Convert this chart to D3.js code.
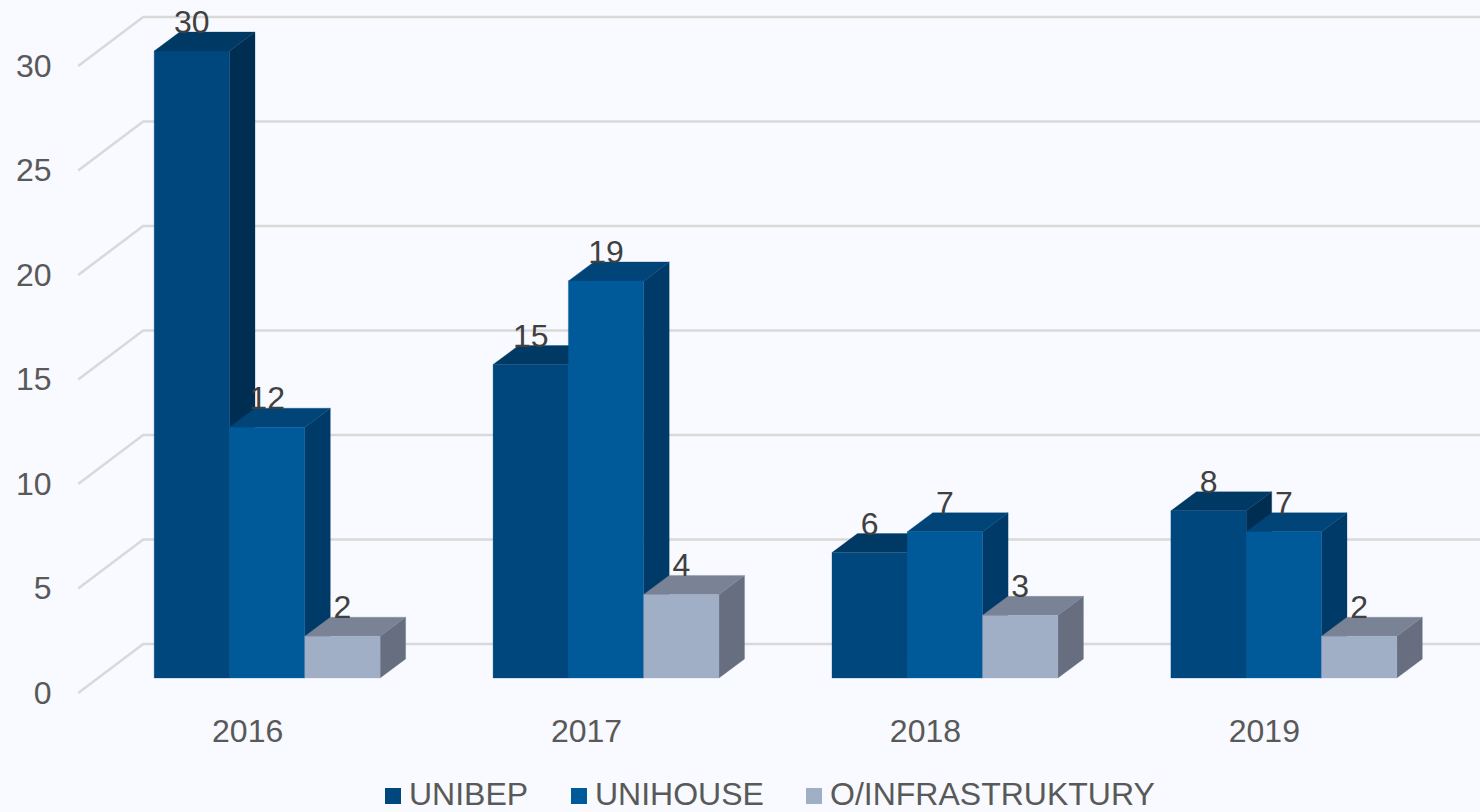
<!DOCTYPE html>
<html><head><meta charset="utf-8">
<script src="https://cdn.jsdelivr.net/npm/d3@7/dist/d3.min.js"></script>
<style>html,body{margin:0;padding:0;background:#F8FAFF;overflow:hidden}svg{display:block}text{font-family:"Liberation Sans",Arial,sans-serif}</style>
</head><body><svg id="c" width="1480" height="812"></svg>
<script>
const years = ["2016","2017","2018","2019"];
const seriesNames = ["UNIBEP","UNIHOUSE","O/INFRASTRUKTURY"];
const unibep = [30,15,6,8];
const unihouse = [12,19,7,7];
const infra = [2,4,3,2];
const seriesValues = [unibep,unihouse,infra];
const yTicks = [0,5,10,15,20,25,30];
const frontColors = ["#00477D","#005A9A","#A0AEC6"];
const topColors = ["#003963","#004478","#7A8296"];
const sideColors = ["#002E52","#003A68","#666E80"];

const svg = d3.select("#c");
const x = d3.scaleBand().domain(years).range([97.7,1453.3]).paddingInner(1/3).paddingOuter(1/6);
const xs = d3.scaleBand().domain(seriesNames).range([0,x.bandwidth()]);
const y = d3.scaleLinear().domain([0,30]).range([678,51]);
const depthX = 25.5, depthY = 19;
const wallFront = {dx:-19.5, dy:15}, wallBack = {dx:45.5, dy:-34};
const x0 = x.range()[0];

// gridlines
const grid = svg.append("g").attr("fill","none").attr("stroke","#D9D9D9").attr("stroke-width",2.6);
grid.selectAll("path").data(yTicks).join("path")
  .attr("d",v=>d3.line()([[x0+wallFront.dx,y(v)+wallFront.dy],[x0+wallBack.dx,y(v)+wallBack.dy],[1480,y(v)+wallBack.dy]]));

// y axis labels
svg.append("g").attr("fill","#595959").attr("font-size",32).attr("text-anchor","end")
  .selectAll("text").data(yTicks).join("text")
  .attr("x",51.5).attr("y",v=>y(v)+wallFront.dy+10.5).text(v=>v);

// category labels
svg.append("g").attr("fill","#595959").attr("font-size",32).attr("text-anchor","middle")
  .selectAll("text").data(years).join("text")
  .attr("x",d=>x(d)+x.bandwidth()/2+wallFront.dx).attr("y",742).text(d=>d);

// bars
const bars = [];
years.forEach((yr,i)=>seriesNames.forEach((s,j)=>bars.push({yr,s,j,v:seriesValues[j][i]})));
const barG = svg.append("g").attr("stroke-width",0.3).attr("stroke-linejoin","round");
const w = xs.bandwidth();
const pts = a=>a.map(p=>p.join(",")).join(" ");
bars.forEach(b=>{
  const l = x(b.yr)+xs(b.s), r = l+w, t = y(b.v), z = y(0);
  barG.append("polygon").attr("points",pts([[r,t],[r+depthX,t-depthY],[r+depthX,z-depthY],[r,z]])).attr("fill",sideColors[b.j]).attr("stroke",sideColors[b.j]);
  barG.append("polygon").attr("points",pts([[l,t],[l+depthX,t-depthY],[r+depthX,t-depthY],[r,t]])).attr("fill",topColors[b.j]).attr("stroke",topColors[b.j]);
  barG.append("rect").attr("x",l).attr("y",t).attr("width",w).attr("height",z-t).attr("fill",frontColors[b.j]).attr("stroke",frontColors[b.j]);
});

// value labels
svg.append("g").attr("fill","#404040").attr("font-size",32).attr("text-anchor","middle")
  .selectAll("text").data(bars).join("text")
  .attr("x",b=>x(b.yr)+xs(b.s)+w/2).attr("y",b=>y(b.v)-18).text(b=>b.v);

// legend
const legendX = [385,571,806];
const leg = svg.append("g");
seriesNames.forEach((s,j)=>{
  leg.append("rect").attr("x",legendX[j]).attr("y",788).attr("width",16).attr("height",16).attr("fill",frontColors[j]);
  leg.append("text").attr("x",legendX[j]+24).attr("y",805).attr("font-size",32).attr("fill","#595959").text(s);
});
</script></body></html>
